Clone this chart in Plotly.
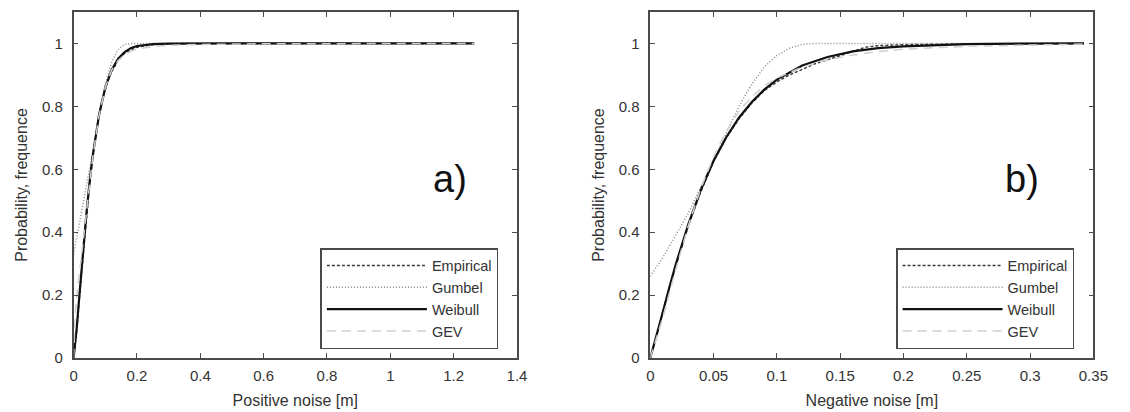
import plotly.graph_objects as go

# ---------------- data: panel a) positive noise ----------------
pos_emp_x = [0, 0.01, 0.02, 0.03, 0.04, 0.05, 0.06, 0.07, 0.08, 0.09, 0.10, 0.11, 0.12, 0.14, 0.16, 0.18, 0.20, 0.25, 0.30, 0.40, 1.265]
pos_emp_y = [0, 0.09, 0.21, 0.33, 0.45, 0.55, 0.64, 0.71, 0.77, 0.82, 0.855, 0.885, 0.91, 0.945, 0.968, 0.98, 0.988, 0.996, 0.999, 1.0, 1.0]

pos_gum_x = [0, 0.01, 0.02, 0.03, 0.04, 0.05, 0.06, 0.08, 0.10, 0.12, 0.14, 0.16, 0.18, 1.265]
pos_gum_y = [0.33, 0.385, 0.44, 0.49, 0.54, 0.60, 0.66, 0.77, 0.87, 0.94, 0.98, 0.997, 1.0, 1.0]

pos_wei_x = [0, 0.01, 0.02, 0.03, 0.04, 0.05, 0.06, 0.08, 0.10, 0.12, 0.14, 0.16, 0.18, 0.20, 0.25, 0.30, 0.40, 0.50, 1.265]
pos_wei_y = [0, 0.098, 0.221, 0.343, 0.456, 0.555, 0.640, 0.772, 0.860, 0.916, 0.951, 0.972, 0.985, 0.992, 0.998, 0.9997, 1.0, 1.0, 1.0]

pos_gev_x = [0, 0.004, 0.01, 0.02, 0.03, 0.04, 0.05, 0.06, 0.08, 0.10, 0.12, 0.14, 0.16, 0.18, 0.20, 0.25, 0.30, 0.40, 0.60, 1.265]
pos_gev_y = [0, 0.12, 0.20, 0.28, 0.37, 0.46, 0.55, 0.635, 0.77, 0.86, 0.915, 0.945, 0.963, 0.975, 0.982, 0.99, 0.994, 0.997, 0.999, 1.0]

# ---------------- data: panel b) negative noise ----------------
neg_emp_x = [0, 0.005, 0.01, 0.015, 0.02, 0.03, 0.04, 0.05, 0.06, 0.07, 0.08, 0.09, 0.10, 0.11, 0.12, 0.13, 0.14, 0.15, 0.16, 0.17, 0.18, 0.20, 0.25, 0.3426]
neg_emp_y = [0, 0.07, 0.15, 0.22, 0.29, 0.42, 0.53, 0.625, 0.70, 0.76, 0.81, 0.85, 0.878, 0.90, 0.918, 0.935, 0.948, 0.962, 0.975, 0.988, 0.993, 0.996, 0.999, 1.0]

neg_gum_x = [0, 0.01, 0.02, 0.03, 0.04, 0.05, 0.06, 0.07, 0.08, 0.09, 0.10, 0.11, 0.12, 0.13, 0.3426]
neg_gum_y = [0.26, 0.32, 0.39, 0.46, 0.545, 0.63, 0.72, 0.80, 0.87, 0.925, 0.962, 0.985, 0.997, 1.0, 1.0]

neg_wei_x = [0, 0.005, 0.01, 0.015, 0.02, 0.03, 0.04, 0.05, 0.06, 0.07, 0.08, 0.09, 0.10, 0.12, 0.14, 0.16, 0.18, 0.20, 0.25, 0.30, 0.3426]
neg_wei_y = [0, 0.0705, 0.148, 0.224, 0.296, 0.425, 0.535, 0.627, 0.702, 0.764, 0.813, 0.853, 0.885, 0.930, 0.957, 0.975, 0.985, 0.991, 0.998, 0.9995, 1.0]

neg_gev_x = [0, 0.01, 0.02, 0.03, 0.04, 0.05, 0.06, 0.07, 0.08, 0.09, 0.10, 0.12, 0.14, 0.16, 0.18, 0.20, 0.25, 0.30, 0.3426]
neg_gev_y = [0, 0.13, 0.28, 0.42, 0.54, 0.64, 0.72, 0.785, 0.83, 0.865, 0.89, 0.925, 0.948, 0.963, 0.974, 0.982, 0.991, 0.996, 0.998]

series_names = ["Empirical", "Gumbel", "Weibull", "GEV"]
panel_labels = ["a)", "b)"]
x_titles = ["Positive noise [m]", "Negative noise [m]"]
y_title = "Probability, frequence"
x1_ticks = [0, 0.2, 0.4, 0.6, 0.8, 1, 1.2, 1.4]
x1_ticktext = ["0", "0.2", "0.4", "0.6", "0.8", "1", "1.2", "1.4"]
x2_ticks = [0, 0.05, 0.1, 0.15, 0.2, 0.25, 0.3, 0.35]
x2_ticktext = ["0", "0.05", "0.1", "0.15", "0.2", "0.25", "0.3", "0.35"]
y_ticks = [0, 0.2, 0.4, 0.6, 0.8, 1]
y_ticktext = ["0", "0.2", "0.4", "0.6", "0.8", "1"]

FONT = "Liberation Sans, Arial, sans-serif"
TXT = "#333333"
styles = {
    "Empirical": dict(color="#3a3a3a", width=1.5, dash="3px,2px"),
    "Gumbel": dict(color="#8a8a8a", width=1.5, dash="1px,2px"),
    "Weibull": dict(color="#111111", width=2.2, dash="solid"),
    "GEV": dict(color="#cfcfcf", width=1.5, dash="9px,6px"),
}

fig = go.Figure()
panels = [
    ("x", "y", "legend", [(pos_emp_x, pos_emp_y), (pos_gum_x, pos_gum_y), (pos_wei_x, pos_wei_y), (pos_gev_x, pos_gev_y)]),
    ("x2", "y2", "legend2", [(neg_emp_x, neg_emp_y), (neg_gum_x, neg_gum_y), (neg_wei_x, neg_wei_y), (neg_gev_x, neg_gev_y)]),
]
for xa, ya, lg, data in panels:
    d = dict(zip(series_names, data))
    for name in series_names:
        xs, ys = d[name]
        fig.add_trace(go.Scatter(x=xs, y=ys, mode="lines", name=name, line=styles[name],
                                 xaxis=xa, yaxis=ya, legend=lg, showlegend=True))

# page body has an 8px margin: figure spans page px 8..1130, 8..412
OFF = 8
W, H = 1130 - OFF, 412 - OFF
L1, R1 = 70.7 - OFF, 521.7 - OFF
L2, R2 = 657.3 - OFF, 1108.0 - OFF
TOP, BOT = 12 - OFF, 358 - OFF
PH = BOT - TOP

axis_common = dict(showline=True, linecolor="#4a4a4a", linewidth=1.5, mirror="ticks",
                   ticks="inside", ticklen=5, tickwidth=1.2, tickcolor="#4a4a4a",
                   showgrid=False, zeroline=False,
                   tickfont=dict(family=FONT, size=15, color=TXT))
title_font = dict(size=16, family=FONT, color=TXT)
xa_extra = dict(ticklabelstandoff=3)
ya_extra = dict(ticklabelstandoff=6)

leg_common = dict(xanchor="left", yanchor="top", bordercolor="#4a4a4a", borderwidth=1.5,
                  bgcolor="white", font=dict(family=FONT, size=14.5, color=TXT),
                  itemwidth=100, tracegroupgap=0)

fig.update_layout(
    width=W, height=H,
    margin=dict(l=0, r=0, t=TOP, b=H - BOT),
    paper_bgcolor="white", plot_bgcolor="white",
    font=dict(family=FONT, color=TXT),
    xaxis=dict(domain=[L1 / W, R1 / W], range=[0, 1.4], tickvals=x1_ticks, ticktext=x1_ticktext,
               anchor="y", title=dict(text=x_titles[0], font=title_font, standoff=12),
               **axis_common, **xa_extra),
    yaxis=dict(domain=[0, 1], range=[0, 1.1], tickvals=y_ticks, ticktext=y_ticktext, anchor="x",
               title=dict(text=y_title, font=title_font, standoff=10), **axis_common, **ya_extra),
    xaxis2=dict(domain=[L2 / W, R2 / W], range=[0, 0.35], tickvals=x2_ticks, ticktext=x2_ticktext,
                anchor="y2", title=dict(text=x_titles[1], font=title_font, standoff=12),
                **axis_common, **xa_extra),
    yaxis2=dict(domain=[0, 1], range=[0, 1.1], tickvals=y_ticks, ticktext=y_ticktext, anchor="x2",
                title=dict(text=y_title, font=title_font, standoff=10), **axis_common, **ya_extra),
    legend=dict(x=(321.7 - OFF) / W, y=(358 - 248) / PH, **leg_common),
    legend2=dict(x=(907.3 - OFF) / W, y=(358 - 248) / PH, **leg_common),
    annotations=[
        dict(text=panel_labels[0], x=1.19, y=0.57, xref="x", yref="y", showarrow=False,
             font=dict(family=FONT, size=38, color="#111")),
        dict(text=panel_labels[1], x=0.294, y=0.57, xref="x2", yref="y2", showarrow=False,
             font=dict(family=FONT, size=38, color="#111")),
    ],
)
fig.write_html("out.html")
